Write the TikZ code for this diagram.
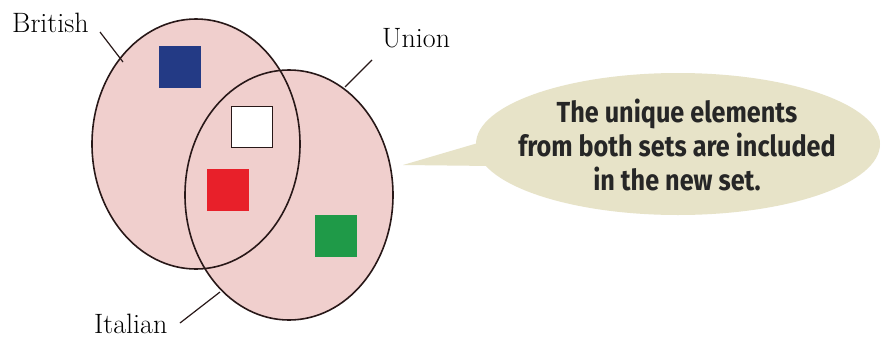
\documentclass[tikz,border=0pt]{standalone}
\usepackage{fontspec}
\usetikzlibrary{shapes.geometric}
\newfontfamily\bubblefont[FakeStretch=0.87]{Fira Sans Bold}
\definecolor{setpink}{RGB}{240,207,205}
\definecolor{setline}{RGB}{40,24,24}
\definecolor{bubblebg}{RGB}{231,227,200}
\definecolor{sqblue}{RGB}{35,58,133}
\definecolor{sqred}{RGB}{232,32,42}
\definecolor{sqgreen}{RGB}{31,154,72}
\tikzset{
  setshape/.style={ellipse, minimum width=208pt, minimum height=250pt, inner sep=0pt},
  elem/.style={minimum size=42pt, inner sep=0pt, draw=none},
  setlabel/.style={anchor=base west, inner sep=0pt, font=\fontsize{28}{32}\selectfont},
  leader/.style={line width=1.2pt, draw=setline}
}
\begin{document}
\begin{tikzpicture}[x=1pt,y=-1pt]
\useasboundingbox (0,0) rectangle (882,340);
\fill[white] (0,0) rectangle (882,340);
% sets
\node[setshape, fill=setpink] (british) at (196,144) {};
\node[setshape, fill=setpink] (union) at (289,195) {};
\draw[line width=1.6pt, setline] (british.center) ellipse [x radius=104, y radius=125];
\draw[line width=1.6pt, setline] (union.center) ellipse [x radius=104, y radius=125];
% elements
\node[elem, fill=sqblue] (blue) at (179.5,67) {};
\node[elem, fill=white, draw=setline, line width=0.6pt, minimum size=41pt] (white) at (251.5,127) {};
\node[elem, fill=sqred] (red) at (228,190) {};
\node[elem, fill=sqgreen] (green) at (336,236) {};
% labels
\node[setlabel] (lbritish) at (12,32) {British};
\node[setlabel] (lunion) at (382,47) {Union};
\node[setlabel] (litalian) at (94,333) {Italian};
\coordinate (bstart) at (100,32);
\coordinate (bend) at (123,62);
\coordinate (ustart) at (372,60);
\coordinate (uend) at (345,87);
\coordinate (istart) at (180,323);
\coordinate (iend) at (220,292);
\draw[leader] (bstart) -- (bend);
\draw[leader] (ustart) -- (uend);
\draw[leader] (istart) -- (iend);
% speech bubble
\coordinate (tail) at (403,165);
\fill[bubblebg] (678,144) ellipse [x radius=202, y radius=71];
\fill[bubblebg] (tail) -- (478,143) -- (492,166) -- cycle;
\node[align=center, inner sep=0pt, font=\bubblefont\fontsize{29}{34}\selectfont, text=black!85] (msg) at (677,145)
  {The unique elements\\from both sets are included\\in the new set.};
\end{tikzpicture}
\end{document}
